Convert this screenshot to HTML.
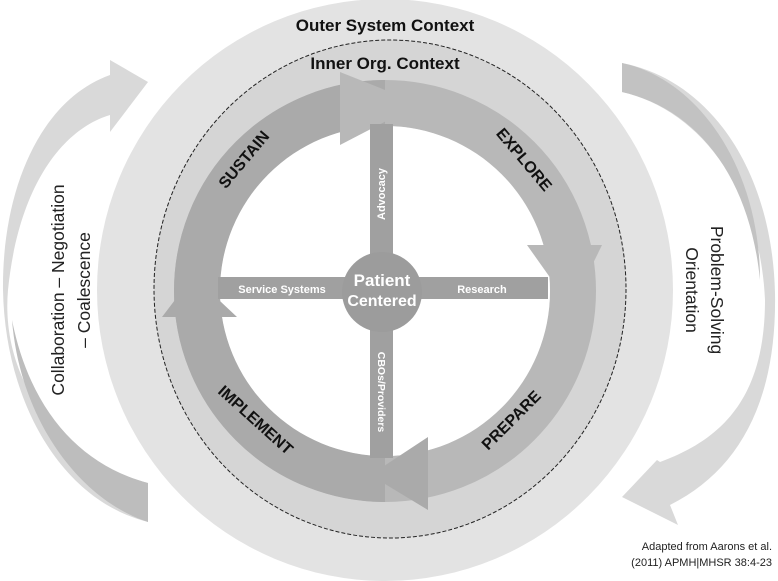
<!DOCTYPE html>
<html><head><meta charset="utf-8"><style>
html,body{margin:0;padding:0;background:#fff;}
svg{display:block;font-family:"Liberation Sans",sans-serif;}
</style></head><body>
<svg width="778" height="581" viewBox="0 0 778 581" xmlns="http://www.w3.org/2000/svg">
<rect width="778" height="581" fill="#fff"/>
<!-- side arrows -->
<path d="M148,522 L148,483 C60,460 0,380 8,290 C18,190 60,130 110,115 L110,132 L148,82 L110,60 L110,75 C40,100 2,190 3,290 C5,400 60,500 148,522 Z" fill="#d9d9d9"/>
<path d="M148,522 L148,483 C80,465 30,410 12,320 C20,420 80,500 148,522 Z" fill="#bdbdbd"/>
<path d="M622,63 L622,92 C700,110 760,190 765,300 C765,400 720,440 660,462 L657,460 L622,497 L678,525 L670,505 C740,470 777,400 775,293 C772,170 710,80 622,63 Z" fill="#d9d9d9"/>
<path d="M622,63 L622,92 C700,110 750,180 760,280 C760,170 700,80 622,63 Z" fill="#c2c2c2"/>
<!-- outer circle -->
<ellipse cx="385" cy="290" rx="288" ry="291" fill="#e3e3e3"/>
<ellipse cx="390" cy="289" rx="236" ry="249" fill="#d5d5d5" stroke="#222" stroke-width="1" stroke-dasharray="4,2"/>
<!-- ring -->
<circle cx="385" cy="291" r="188" fill="none" stroke="#b8b8b8" stroke-width="46"/>
<path d="M385,103 A188,188 0 0 0 197,291 A188,188 0 0 0 385,479" fill="none" stroke="#aaaaaa" stroke-width="46"/>
<circle cx="385" cy="291" r="165" fill="#fff"/>
<polygon points="340,72 340,145 392,118 410,100" fill="#b8b8b8"/>
<polygon points="527,245 602,245 580,290 566,300" fill="#b8b8b8"/>
<polygon points="428,437 428,510 385,484 372,474" fill="#aaaaaa"/>
<polygon points="162,317 237,317 204,286 194,275" fill="#aaaaaa"/>
<!-- bars -->
<rect x="370" y="124" width="23" height="334" fill="#a0a0a0"/>
<rect x="218" y="277" width="330" height="22" fill="#a0a0a0"/>
<circle cx="382" cy="292" r="40" fill="#9c9c9c"/>
<!-- texts -->
<text x="385" y="31" text-anchor="middle" font-size="17" font-weight="bold" fill="#111">Outer System Context</text>
<text x="385" y="69" text-anchor="middle" font-size="17" font-weight="bold" fill="#111">Inner Org. Context</text>
<text x="382" y="286" text-anchor="middle" font-size="17" font-weight="bold" fill="#fff">Patient</text>
<text x="382" y="306" text-anchor="middle" font-size="16" font-weight="bold" fill="#fff">Centered</text>
<text x="282" y="293" text-anchor="middle" font-size="11" font-weight="bold" fill="#fff">Service Systems</text>
<text x="482" y="293" text-anchor="middle" font-size="11" font-weight="bold" fill="#fff">Research</text>
<text transform="translate(385,194) rotate(-90)" text-anchor="middle" font-size="11" font-weight="bold" fill="#fff">Advocacy</text>
<text transform="translate(378,392) rotate(90)" text-anchor="middle" font-size="10.5" font-weight="bold" fill="#fff">CBOs/Providers</text>
<text transform="translate(248,163) rotate(-50)" text-anchor="middle" font-size="16" font-weight="bold" fill="#111">SUSTAIN</text>
<text transform="translate(520,163) rotate(50)" text-anchor="middle" font-size="16" font-weight="bold" fill="#111">EXPLORE</text>
<text transform="translate(252,424) rotate(42)" text-anchor="middle" font-size="16" font-weight="bold" fill="#111">IMPLEMENT</text>
<text transform="translate(515,424) rotate(-45)" text-anchor="middle" font-size="16" font-weight="bold" fill="#111">PREPARE</text>
<text transform="translate(64,290) rotate(-90)" text-anchor="middle" font-size="17.5" fill="#222">Collaboration – Negotiation</text>
<text transform="translate(90,290) rotate(-90)" text-anchor="middle" font-size="17.5" fill="#222">– Coalescence</text>
<text transform="translate(711,290) rotate(90)" text-anchor="middle" font-size="17.5" fill="#222">Problem-Solving</text>
<text transform="translate(686,290) rotate(90)" text-anchor="middle" font-size="17.5" fill="#222">Orientation</text>
<text x="772" y="550" text-anchor="end" font-size="11" fill="#222">Adapted from Aarons et al.</text>
<text x="772" y="566" text-anchor="end" font-size="11" fill="#222">(2011) APMH|MHSR 38:4-23</text>
</svg>
</body></html>
